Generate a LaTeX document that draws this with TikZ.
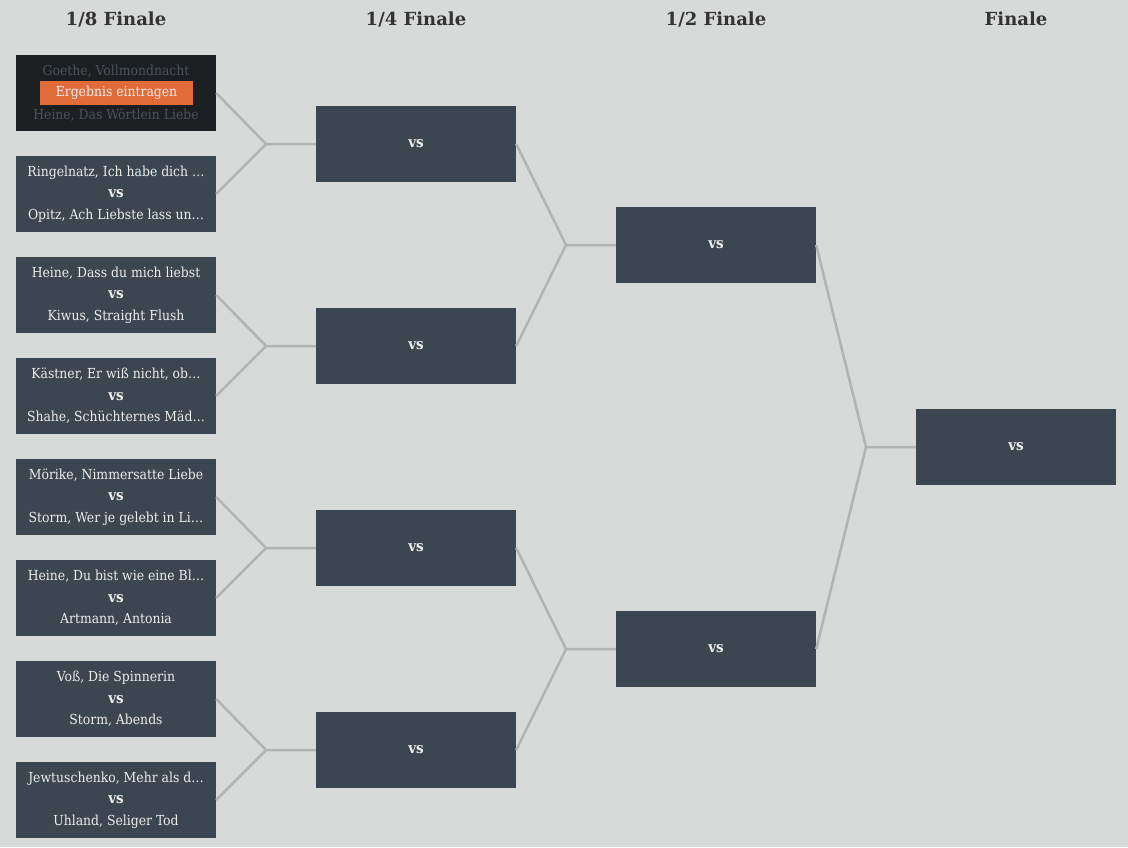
\documentclass[tikz,border=0pt]{standalone}
\usepackage{fontspec}
\setmainfont{DejaVu Serif}
\newfontfamily\condfont{DejaVu Serif Condensed}
\definecolor{bgc}{HTML}{D8D9D9}
\definecolor{boxc}{HTML}{3C4650}
\definecolor{darkc}{HTML}{1C1F22}
\definecolor{dimc}{HTML}{4C5258}
\definecolor{txtc}{HTML}{ECEDED}
\definecolor{linec}{HTML}{B2B3B3}
\definecolor{headc}{HTML}{333333}
\definecolor{orangec}{HTML}{E26B3A}
\tikzset{
  box/.style={fill=boxc, minimum width=200pt, minimum height=76pt, inner sep=0pt, text=txtc, align=center, font=\condfont\fontsize{13.8}{21.5}\selectfont},
  darkbox/.style={fill=darkc, minimum width=200pt, minimum height=76pt, inner sep=0pt},
  dimtext/.style={text=dimc, font=\condfont\fontsize{13.8}{16}\selectfont, inner sep=0pt},
  btn/.style={fill=orangec, minimum width=153pt, minimum height=24pt, inner sep=0pt, text=txtc, font=\condfont\fontsize{13.8}{16}\selectfont},
  head/.style={text=headc, font=\bfseries\fontsize{18}{21}\selectfont},
  conn/.style={draw=linec, line width=2.5pt}
}
\newcommand{\vsl}{{\fontsize{15}{21.5}\selectfont\textbf{vs}}}
\begin{document}
\begin{tikzpicture}[x=1pt,y=-1pt]
\fill[bgc] (0,0) rectangle (1128,847);
\useasboundingbox (0,0) rectangle (1128,847);
% headers
\node[head] (h1) at (116,19) {1/8 Finale};
\node[head] (h2) at (416,19) {1/4 Finale};
\node[head] (h3) at (716,19) {1/2 Finale};
\node[head] (h4) at (1016,19) {Finale};
% round 1
\node[darkbox] (r1a) at (116,93) {};
\node[dimtext] (r1at) at (116,71) {Goethe, Vollmondnacht};
\node[btn] (r1ab) at (116.5,93) {Ergebnis eintragen};
\node[dimtext] (r1ac) at (116,115) {Heine, Das Wörtlein Liebe};
\node[box] (r1b) at (116,194) {Ringelnatz, Ich habe dich …\\\vsl\\Opitz, Ach Liebste lass un…};
\node[box] (r1c) at (116,295) {Heine, Dass du mich liebst\\\vsl\\Kiwus, Straight Flush};
\node[box] (r1d) at (116,396) {Kästner, Er wiß nicht, ob…\\\vsl\\Shahe, Schüchternes Mäd…};
\node[box] (r1e) at (116,497) {Mörike, Nimmersatte Liebe\\\vsl\\Storm, Wer je gelebt in Li…};
\node[box] (r1f) at (116,598) {Heine, Du bist wie eine Bl…\\\vsl\\Artmann, Antonia};
\node[box] (r1g) at (116,699) {Voß, Die Spinnerin\\\vsl\\Storm, Abends};
\node[box] (r1h) at (116,800) {Jewtuschenko, Mehr als d…\\\vsl\\Uhland, Seliger Tod};
% round 2
\node[box] (r2a) at (416,144) {\vsl};
\node[box] (r2b) at (416,346) {\vsl};
\node[box] (r2c) at (416,548) {\vsl};
\node[box] (r2d) at (416,750) {\vsl};
% round 3
\node[box] (r3a) at (716,245) {\vsl};
\node[box] (r3b) at (716,649) {\vsl};
% final
\node[box] (r4) at (1016,447) {\vsl};
% junctions
\coordinate (j1a) at (266,144);
\coordinate (j1b) at (266,346);
\coordinate (j1c) at (266,548);
\coordinate (j1d) at (266,750);
\coordinate (j2a) at (566,245);
\coordinate (j2b) at (566,649);
\coordinate (j3) at (866,447);
% connectors
\draw[conn] (r1a.east) -- (j1a) -- (r2a.west);
\draw[conn] (r1b.east) -- (j1a);
\draw[conn] (r1c.east) -- (j1b) -- (r2b.west);
\draw[conn] (r1d.east) -- (j1b);
\draw[conn] (r1e.east) -- (j1c) -- (r2c.west);
\draw[conn] (r1f.east) -- (j1c);
\draw[conn] (r1g.east) -- (j1d) -- (r2d.west);
\draw[conn] (r1h.east) -- (j1d);
\draw[conn] (r2a.east) -- (j2a) -- (r3a.west);
\draw[conn] (r2b.east) -- (j2a);
\draw[conn] (r2c.east) -- (j2b) -- (r3b.west);
\draw[conn] (r2d.east) -- (j2b);
\draw[conn] (r3a.east) -- (j3) -- (r4.west);
\draw[conn] (r3b.east) -- (j3);
\end{tikzpicture}
\end{document}
